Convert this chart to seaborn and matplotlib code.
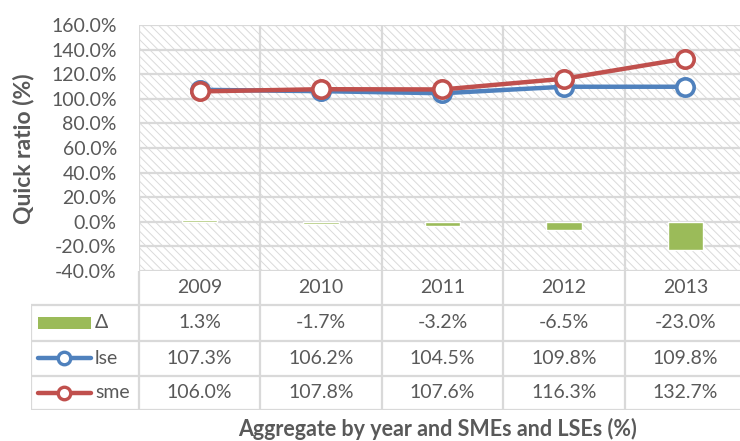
import pandas as pd
import numpy as np
import matplotlib
matplotlib.use("Agg")
import matplotlib.pyplot as plt
from matplotlib.patches import Rectangle
from matplotlib.lines import Line2D
import seaborn as sns

# ========= DADOS ==========
years = ["2009", "2010", "2011", "2012", "2013"]
delta = [1.3, -1.7, -3.2, -6.5, -23.0]
lse = [107.3, 106.2, 104.5, 109.8, 109.8]
sme = [106.0, 107.8, 107.6, 116.3, 132.7]
yticks = [-40, -20, 0, 20, 40, 60, 80, 100, 120, 140, 160]

pos = np.arange(len(years))
df = pd.DataFrame({"pos": pos, "year": years, "delta": delta, "lse": lse, "sme": sme})

# ========= ESTILO ==========
sns.set_theme(style="white")
plt.rcParams["font.family"] = ["Lato", "DejaVu Sans"]
plt.rcParams["hatch.color"] = "#dadada"
plt.rcParams["hatch.linewidth"] = 0.7
txt = "#595959"
grid = "#d9d9d9"
blue = "#4f81bd"
red = "#c0504d"
green = "#9bbb59"
fs = 14

W, H = 740, 441
fig = plt.figure(figsize=(W / 100, H / 100), dpi=100)

# eixo principal (px -> fração)
x0, x1 = 139, 746
y_top, y_bot = 25, 271
ax = fig.add_axes([x0 / W, 1 - y_bot / H, (x1 - x0) / W, (y_bot - y_top) / H])
ax.set_xlim(-0.5, len(years) - 0.5)
ax.set_ylim(-40, 160)

# fundo hachurado
ax.add_patch(Rectangle((0, 0), 1, 1, transform=ax.transAxes, facecolor="white",
                       edgecolor="#dadada", hatch="\\\\\\\\", linewidth=0, zorder=0))
for y in yticks:
    ax.axhline(y, color=grid, lw=1.6, zorder=1)
for b in np.arange(-0.5, len(years), 1.0):
    ax.axvline(b, color=grid, lw=1.6, zorder=1)

# barras Δ
ax.bar(df["pos"], df["delta"], width=0.29, color=green, zorder=2)

# linhas
sns.lineplot(data=df, x="pos", y="lse", ax=ax, color=blue, lw=3.2, marker="o",
             markersize=12.5, markerfacecolor="white", markeredgecolor=blue,
             markeredgewidth=2.6, zorder=3)
sns.lineplot(data=df, x="pos", y="sme", ax=ax, color=red, lw=3.2, marker="o",
             markersize=12.5, markerfacecolor="white", markeredgecolor=red,
             markeredgewidth=2.6, zorder=4)

ax.set_yticks(yticks)
ax.set_yticklabels([f"{v:.1f}%" for v in yticks], color=txt, fontsize=fs)
ax.set_xticks([])
ax.tick_params(axis="y", length=0, pad=16)
ax.set_xlabel("")
ax.set_ylabel("")
for s in ax.spines.values():
    s.set_visible(False)

fig.text(24 / W, 1 - 149 / H, "Quick ratio (%)", rotation=90, ha="center", va="center",
         fontsize=16.5, fontweight="bold", color=txt)

# ========= TABELA ==========
t_left, t_bot = 31, 410
key_w = (x0 - t_left) / ((x1 - x0) / len(years))
tax = fig.add_axes([t_left / W, 1 - t_bot / H, (x1 - t_left) / W, (t_bot - y_bot) / H])
tax.set_xlim(-0.5 - key_w, len(years) - 0.5)
rows_px = [271, 305, 341, 376, 410]
tax.set_ylim(rows_px[-1], rows_px[0])
tax.axis("off")

lc = dict(color=grid, lw=1.6, solid_capstyle="butt")
for yb in rows_px[1:]:
    tax.plot([-0.5 - key_w, len(years) - 0.5], [yb, yb], **lc)
for b in np.arange(-0.5, len(years), 1.0):
    tax.plot([b, b], [rows_px[0], rows_px[-1]], **lc)
tax.plot([-0.5 - key_w, -0.5 - key_w], [rows_px[1], rows_px[-1]], **lc)

rmid = [(rows_px[i] + rows_px[i + 1]) / 2 for i in range(4)]
for i, yr in enumerate(years):
    tax.text(i, rmid[0], yr, ha="center", va="center", fontsize=fs, color=txt)
    tax.text(i, rmid[1], f"{delta[i]:.1f}%", ha="center", va="center", fontsize=fs, color=txt)
    tax.text(i, rmid[2], f"{lse[i]:.1f}%", ha="center", va="center", fontsize=fs, color=txt)
    tax.text(i, rmid[3], f"{sme[i]:.1f}%", ha="center", va="center", fontsize=fs, color=txt)

# chaves da legenda
unit = (x1 - x0) / len(years)
kx0 = -0.5 - key_w + (38 - t_left) / unit
kx1 = -0.5 - key_w + (91 - t_left) / unit
tax.add_patch(Rectangle((kx0, rmid[1] - 6), kx1 - kx0, 12, facecolor=green, edgecolor="none"))
for r, c in [(rmid[2], blue), (rmid[3], red)]:
    tax.add_line(Line2D([kx0, kx1], [r, r], color=c, lw=3.2))
    tax.plot([(kx0 + kx1) / 2], [r], marker="o", markersize=9, markerfacecolor="white",
             markeredgecolor=c, markeredgewidth=2.4)
lab_x = -0.5 - key_w + (95 - t_left) / unit
tax.text(lab_x, rmid[1], "Δ", ha="left", va="center", fontsize=fs, color=txt)
tax.text(lab_x, rmid[2], "lse", ha="left", va="center", fontsize=fs, color=txt)
tax.text(lab_x, rmid[3], "sme", ha="left", va="center", fontsize=fs, color=txt)

fig.text(438 / W, 1 - 429 / H, "Aggregate by year and SMEs and LSEs (%)", ha="center",
         va="center", fontsize=15.5, fontweight="bold", color=txt)

fig.savefig("out.png", dpi=100)
